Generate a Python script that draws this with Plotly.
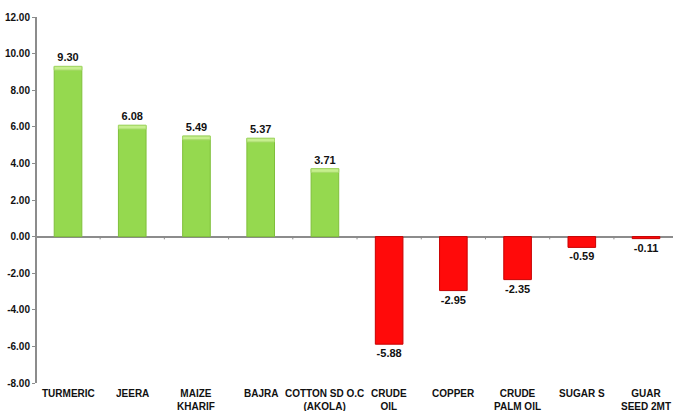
import plotly.graph_objects as go

categories = ["TURMERIC", "JEERA", "MAIZE<br>KHARIF", "BAJRA", "COTTON SD O.C<br>(AKOLA)",
              "CRUDE<br>OIL", "COPPER", "CRUDE<br>PALM OIL", "SUGAR S", "GUAR<br>SEED 2MT"]
values = [9.30, 6.08, 5.49, 5.37, 3.71, -5.88, -2.95, -2.35, -0.59, -0.11]
y_ticks = [12, 10, 8, 6, 4, 2, 0, -2, -4, -6, -8]

x = list(range(len(categories)))
fill = ["#95d94f" if v >= 0 else "#ff0a0a" for v in values]
edge = ["#7fbf3a" if v >= 0 else "#c80000" for v in values]

fig = go.Figure()
fig.add_trace(go.Bar(
    x=x, y=values, width=0.43,
    marker=dict(color=fill, line=dict(color=edge, width=1)),
    text=[f"{v:.2f}" for v in values],
    textposition="outside", cliponaxis=False,
    textfont=dict(family="Arial", size=11, color="#111111"),
    texttemplate="<b>%{text}</b>",
    hoverinfo="skip",
))

# lighter cap on top of the rising bars
cap = 0.2
pos_x = [i for i, v in zip(x, values) if v > 0]
pos_v = [v for v in values if v > 0]
fig.add_trace(go.Bar(
    x=pos_x, y=[cap] * len(pos_x), base=[v - cap for v in pos_v], width=0.43,
    marker=dict(color="#c6ef8e", line=dict(color="#a6d96a", width=1)),
    hoverinfo="skip",
))

# Labels for the categories, placed under the plot area
for i, c in enumerate(categories):
    fig.add_annotation(x=i, y=0, xref="x", yref="paper", text=f"<b>{c}</b>",
                       showarrow=False, yanchor="top", yshift=-3,
                       font=dict(family="Arial", size=10, color="#111111"))

fig.update_layout(
    width=673, height=411,
    margin=dict(l=37, r=0, t=17, b=28),
    plot_bgcolor="white", paper_bgcolor="white",
    showlegend=False, barmode="overlay",
    font=dict(family="Arial", color="#111111"),
)
fig.update_xaxes(range=[-0.483, 9.42], showticklabels=False, showgrid=False,
                 zeroline=False, showline=False, ticks="", fixedrange=True)
fig.update_yaxes(range=[-8, 12], tickvals=y_ticks,
                 ticktext=[f"<b>{v:.2f}</b>" for v in y_ticks],
                 tickfont=dict(family="Arial", size=10, color="#111111"),
                 showgrid=False, zeroline=True, zerolinecolor="#8c8c8c", zerolinewidth=2,
                 showline=True, linecolor="#8c8c8c", linewidth=2,
                 ticks="outside", ticklen=3, tickcolor="#8c8c8c", tickwidth=1)

# small tick marks on the zero line between categories
for i in range(9):
    fig.add_shape(type="line", x0=i + 0.5, x1=i + 0.5, y0=0, y1=-0.15,
                  xref="x", yref="y", line=dict(color="#8c8c8c", width=1))

fig.write_html("out.html")
